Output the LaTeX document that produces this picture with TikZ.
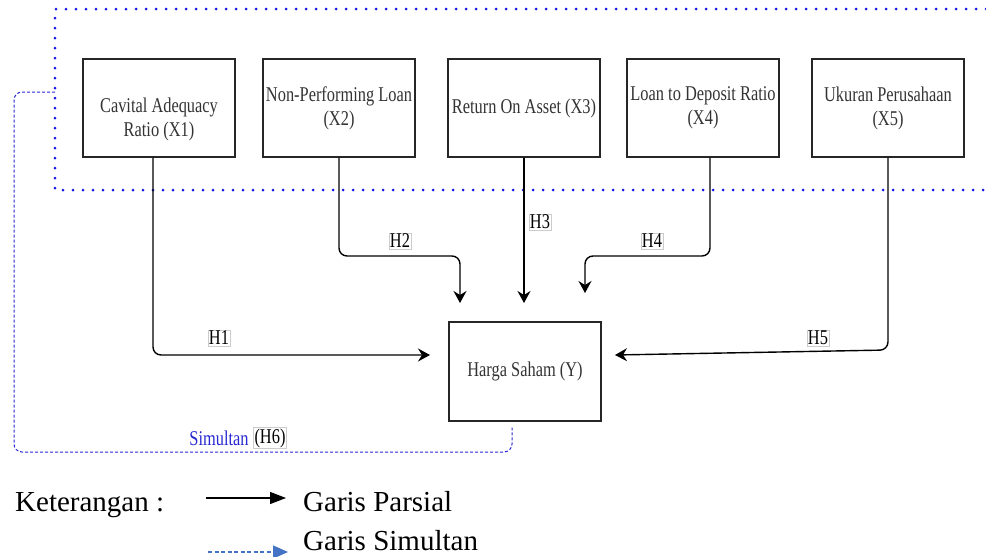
\documentclass[tikz,border=0pt]{standalone}
\usepackage{fontspec}
\setmainfont{Liberation Serif}
\newfontfamily\boxfont[FakeStretch=0.78]{Liberation Serif}
\usetikzlibrary{arrows.meta,positioning,calc}
\definecolor{dotblue}{RGB}{20,20,230}
\definecolor{simblue}{RGB}{40,40,210}
\definecolor{legblue}{RGB}{68,114,196}
\tikzset{
  vbox/.style={rectangle,draw=black!85,line width=1.3pt,minimum width=152pt,minimum height=98pt,inner sep=2pt,align=center,text=black!80,font=\boxfont\fontsize{21}{24}\selectfont},
  hlab/.style={draw=black!20,line width=0.6pt,fill=white,inner sep=1pt,font=\boxfont\fontsize{21}{24}\selectfont},
  pe/.style={-{Stealth[length=12pt,width=13pt,inset=4pt]},line width=1.4pt,rounded corners=8pt},
  se/.style={simblue,line width=1pt,dash pattern=on 3pt off 2pt,rounded corners=8pt},
  dotframe/.style={dotblue,line width=3pt,line cap=round,dash pattern=on 0pt off 10pt},
  legtext/.style={anchor=base west,inner sep=0pt,font=\fontsize{29}{32}\selectfont}
}

\begin{document}
\begin{tikzpicture}[x=1pt,y=-1pt]
\useasboundingbox (0,0) rectangle (986,557);
% dotted frame round the independent variables
\draw[dotframe] (986,9) -- (55,9) -- (55,190) -- (986,190);
\node[vbox] (x1) at (159,108) {\mbox{}\\[13pt]Cavital Adequacy\\Ratio (X1)};
\node[vbox] (x2) at (339,108) {Non-Performing Loan\\(X2)};
\node[vbox] (x3) at (524,108) {Return On Asset (X3)};
\node[vbox] (x4) at (703,108) {Loan to Deposit Ratio\\(X4)};
\node[vbox] (x5) at (888,108) {Ukuran Perusahaan\\(X5)};
\node[vbox,minimum height=99pt] (y) at (525,371.5) {Harga Saham (Y)};
% partial paths
\coordinate (t1) at (430,355);
\coordinate (c2) at (460,256);
\coordinate (t2) at (460,303);
\coordinate (t3) at (524,303);
\coordinate (c4) at (585,256);
\coordinate (t4) at (585,293);
\coordinate (c5) at (888,350);
\coordinate (t5) at (615,355);
\draw[pe] ([xshift=-6pt]x1.south) |- (t1);
\draw[pe] (x2.south) |- (c2) -- (t2);
\draw[pe] (x3.south) -- (t3);
\draw[pe] ([xshift=7pt]x4.south) |- (c4) -- (t4);
\draw[pe] (x5.south) -- (c5) -- (t5);
\node[hlab] (h1) at (219,338) {H1};
\node[hlab] (h2) at (400,241) {H2};
\node[hlab] (h3) at (540,222) {H3};
\node[hlab] (h4) at (652,241) {H4};
\node[hlab] (h5) at (818,338) {H5};
% simultaneous path
\coordinate (s0) at (55,92);
\coordinate (s1) at (14,452);
\draw[se] (s0) -| (s1) -| ([xshift=-13pt,yshift=-6pt]y.south);
\node[font=\boxfont\fontsize{21}{24}\selectfont,text=simblue,inner sep=1pt] (sim) at (219,438) {Simultan};
\node[hlab] (h6) at (270,438) {(H6)};
% legend
\node[legtext] (ket) at (15,511) {Keterangan :};
\node[legtext] (gp) at (303,511) {Garis Parsial};
\node[legtext] (gs) at (303,550) {Garis Simultan};
\coordinate (la) at (206,498);
\coordinate (lb) at (286,498);
\coordinate (lc) at (208,552);
\coordinate (ld) at (288,552);
\draw[-{Triangle[length=16pt,width=12pt]},line width=1.2pt] (la) -- (lb);
\draw[legblue,line width=1.2pt,dash pattern=on 4pt off 2.5pt,-{Triangle[length=15pt,width=13pt]}] (lc) -- (ld);
\end{tikzpicture}
\end{document}
